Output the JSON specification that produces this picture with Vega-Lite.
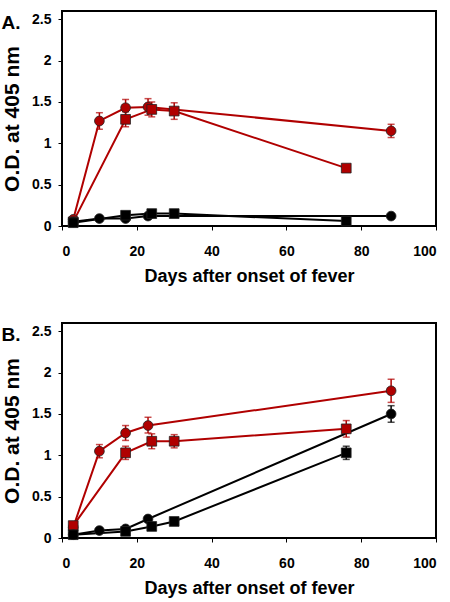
{
  "$schema": "https://vega.github.io/schema/vega-lite/v6.json",
  "padding": {"left": 0, "top": 10, "right": 0, "bottom": 0},
  "spacing": 36,
  "background": "white",
  "config": {
    "view": {"stroke": "black", "strokeWidth": 2},
    "font": "Liberation Sans",
    "axis": {
      "grid": false,
      "domain": false,
      "tickColor": "black",
      "tickSize": 4,
      "labelFont": "Liberation Sans",
      "labelFontWeight": "bold",
      "labelFontSize": 14,
      "labelColor": "black",
      "titleFont": "Liberation Sans",
      "titleFontWeight": "bold",
      "titleFontSize": 18,
      "titleColor": "black"
    },
    "title": {"font": "Liberation Sans", "fontSize": 19, "fontWeight": "bold", "color": "black", "anchor": "start", "frame": "bounds"}
  },
  "datasets": {
    "pts": [
      {"panel": "A", "series": "red circle", "group": "red", "marker": "circle", "day": 3, "od": 0.08, "lo": 0.05, "hi": 0.11},
      {"panel": "A", "series": "red circle", "group": "red", "marker": "circle", "day": 10, "od": 1.27, "lo": 1.17, "hi": 1.37},
      {"panel": "A", "series": "red circle", "group": "red", "marker": "circle", "day": 17, "od": 1.43, "lo": 1.33, "hi": 1.53},
      {"panel": "A", "series": "red circle", "group": "red", "marker": "circle", "day": 23, "od": 1.44, "lo": 1.34, "hi": 1.54},
      {"panel": "A", "series": "red circle", "group": "red", "marker": "circle", "day": 88, "od": 1.15, "lo": 1.07, "hi": 1.23},
      {"panel": "A", "series": "red square", "group": "red", "marker": "square", "day": 3, "od": 0.05, "lo": 0.03, "hi": 0.07},
      {"panel": "A", "series": "red square", "group": "red", "marker": "square", "day": 17, "od": 1.29, "lo": 1.2, "hi": 1.38},
      {"panel": "A", "series": "red square", "group": "red", "marker": "square", "day": 24, "od": 1.41, "lo": 1.32, "hi": 1.5},
      {"panel": "A", "series": "red square", "group": "red", "marker": "square", "day": 30, "od": 1.39, "lo": 1.29, "hi": 1.49},
      {"panel": "A", "series": "red square", "group": "red", "marker": "square", "day": 76, "od": 0.7, "lo": 0.68, "hi": 0.72},
      {"panel": "A", "series": "black circle", "group": "black", "marker": "circle", "day": 3, "od": 0.05, "lo": 0.04, "hi": 0.06},
      {"panel": "A", "series": "black circle", "group": "black", "marker": "circle", "day": 10, "od": 0.09, "lo": 0.08, "hi": 0.1},
      {"panel": "A", "series": "black circle", "group": "black", "marker": "circle", "day": 17, "od": 0.09, "lo": 0.08, "hi": 0.1},
      {"panel": "A", "series": "black circle", "group": "black", "marker": "circle", "day": 23, "od": 0.12, "lo": 0.11, "hi": 0.13},
      {"panel": "A", "series": "black circle", "group": "black", "marker": "circle", "day": 88, "od": 0.12, "lo": 0.11, "hi": 0.13},
      {"panel": "A", "series": "black square", "group": "black", "marker": "square", "day": 3, "od": 0.04, "lo": 0.03, "hi": 0.05},
      {"panel": "A", "series": "black square", "group": "black", "marker": "square", "day": 17, "od": 0.13, "lo": 0.12, "hi": 0.14},
      {"panel": "A", "series": "black square", "group": "black", "marker": "square", "day": 24, "od": 0.15, "lo": 0.14, "hi": 0.16},
      {"panel": "A", "series": "black square", "group": "black", "marker": "square", "day": 30, "od": 0.15, "lo": 0.14, "hi": 0.16},
      {"panel": "A", "series": "black square", "group": "black", "marker": "square", "day": 76, "od": 0.06, "lo": 0.05, "hi": 0.07},

      {"panel": "B", "series": "red circle", "group": "red", "marker": "circle", "day": 3, "od": 0.13, "lo": 0.11, "hi": 0.15},
      {"panel": "B", "series": "red circle", "group": "red", "marker": "circle", "day": 10, "od": 1.05, "lo": 0.97, "hi": 1.13},
      {"panel": "B", "series": "red circle", "group": "red", "marker": "circle", "day": 17, "od": 1.27, "lo": 1.18, "hi": 1.36},
      {"panel": "B", "series": "red circle", "group": "red", "marker": "circle", "day": 23, "od": 1.36, "lo": 1.27, "hi": 1.46},
      {"panel": "B", "series": "red circle", "group": "red", "marker": "circle", "day": 88, "od": 1.78, "lo": 1.64, "hi": 1.92},
      {"panel": "B", "series": "red square", "group": "red", "marker": "square", "day": 3, "od": 0.15, "lo": 0.13, "hi": 0.17},
      {"panel": "B", "series": "red square", "group": "red", "marker": "square", "day": 17, "od": 1.03, "lo": 0.95, "hi": 1.11},
      {"panel": "B", "series": "red square", "group": "red", "marker": "square", "day": 24, "od": 1.17, "lo": 1.08, "hi": 1.26},
      {"panel": "B", "series": "red square", "group": "red", "marker": "square", "day": 30, "od": 1.17, "lo": 1.09, "hi": 1.25},
      {"panel": "B", "series": "red square", "group": "red", "marker": "square", "day": 76, "od": 1.32, "lo": 1.22, "hi": 1.42},
      {"panel": "B", "series": "black circle", "group": "black", "marker": "circle", "day": 3, "od": 0.04, "lo": 0.03, "hi": 0.05},
      {"panel": "B", "series": "black circle", "group": "black", "marker": "circle", "day": 10, "od": 0.09, "lo": 0.08, "hi": 0.1},
      {"panel": "B", "series": "black circle", "group": "black", "marker": "circle", "day": 17, "od": 0.11, "lo": 0.1, "hi": 0.12},
      {"panel": "B", "series": "black circle", "group": "black", "marker": "circle", "day": 23, "od": 0.23, "lo": 0.21, "hi": 0.25},
      {"panel": "B", "series": "black circle", "group": "black", "marker": "circle", "day": 88, "od": 1.5, "lo": 1.4, "hi": 1.6},
      {"panel": "B", "series": "black square", "group": "black", "marker": "square", "day": 3, "od": 0.04, "lo": 0.03, "hi": 0.05},
      {"panel": "B", "series": "black square", "group": "black", "marker": "square", "day": 17, "od": 0.08, "lo": 0.07, "hi": 0.09},
      {"panel": "B", "series": "black square", "group": "black", "marker": "square", "day": 24, "od": 0.14, "lo": 0.13, "hi": 0.15},
      {"panel": "B", "series": "black square", "group": "black", "marker": "square", "day": 30, "od": 0.2, "lo": 0.19, "hi": 0.21},
      {"panel": "B", "series": "black square", "group": "black", "marker": "square", "day": 76, "od": 1.03, "lo": 0.95, "hi": 1.11}
    ]
  },
  "vconcat": [
    {
      "title": {"text": "A.", "offset": -22},
      "width": 374,
      "height": 215,
      "data": {"name": "pts"},
      "transform": [{"filter": "datum.panel === 'A'"}],
      "encoding": {
        "x": {"field": "day", "type": "quantitative", "scale": {"domain": [0, 100]}, "axis": {"values": [0, 20, 40, 60, 80, 100], "title": "Days after onset of fever", "labelPadding": 14, "titlePadding": 9}},
        "color": {"field": "group", "type": "nominal", "scale": {"domain": ["red", "black"], "range": ["#b00000", "#000000"]}, "legend": null}
      },
      "layer": [
        {"mark": {"type": "line", "strokeWidth": 2}, "encoding": {"y": {"field": "od", "type": "quantitative", "title": "O.D. at 405 nm", "scale": {"domain": [0, 2.5]}, "axis": {"values": [0, 0.5, 1, 1.5, 2, 2.5], "format": "~g", "labelPadding": 7, "titlePadding": 9, "titleFontSize": 21}}, "detail": {"field": "series"}}},
        {"mark": {"type": "errorbar", "ticks": {"size": 7}, "thickness": 1.5}, "encoding": {"y": {"field": "lo", "type": "quantitative", "title": "O.D. at 405 nm"}, "y2": {"field": "hi"}}},
        {"mark": {"type": "point", "filled": true, "opacity": 1, "stroke": "#222", "strokeWidth": 0.8}, "encoding": {"y": {"field": "od", "type": "quantitative", "title": "O.D. at 405 nm"}, "shape": {"field": "marker", "type": "nominal", "scale": {"domain": ["circle", "square"], "range": ["circle", "square"]}, "legend": null}, "size": {"value": 95}, "fill": {"field": "group", "type": "nominal", "scale": {"domain": ["red", "black"], "range": ["#b00000", "#000000"]}, "legend": null}}}
      ]
    },
    {
      "title": {"text": "B.", "offset": -22},
      "width": 374,
      "height": 215,
      "data": {"name": "pts"},
      "transform": [{"filter": "datum.panel === 'B'"}],
      "encoding": {
        "x": {"field": "day", "type": "quantitative", "scale": {"domain": [0, 100]}, "axis": {"values": [0, 20, 40, 60, 80, 100], "title": "Days after onset of fever", "labelPadding": 14, "titlePadding": 9}},
        "color": {"field": "group", "type": "nominal", "scale": {"domain": ["red", "black"], "range": ["#b00000", "#000000"]}, "legend": null}
      },
      "layer": [
        {"mark": {"type": "line", "strokeWidth": 2}, "encoding": {"y": {"field": "od", "type": "quantitative", "title": "O.D. at 405 nm", "scale": {"domain": [0, 2.5]}, "axis": {"values": [0, 0.5, 1, 1.5, 2, 2.5], "format": "~g", "labelPadding": 7, "titlePadding": 9, "titleFontSize": 21}}, "detail": {"field": "series"}}},
        {"mark": {"type": "errorbar", "ticks": {"size": 7}, "thickness": 1.5}, "encoding": {"y": {"field": "lo", "type": "quantitative", "title": "O.D. at 405 nm"}, "y2": {"field": "hi"}}},
        {"mark": {"type": "point", "filled": true, "opacity": 1, "stroke": "#222", "strokeWidth": 0.8}, "encoding": {"y": {"field": "od", "type": "quantitative", "title": "O.D. at 405 nm"}, "shape": {"field": "marker", "type": "nominal", "scale": {"domain": ["circle", "square"], "range": ["circle", "square"]}, "legend": null}, "size": {"value": 95}, "fill": {"field": "group", "type": "nominal", "scale": {"domain": ["red", "black"], "range": ["#b00000", "#000000"]}, "legend": null}}}
      ]
    }
  ]
}
